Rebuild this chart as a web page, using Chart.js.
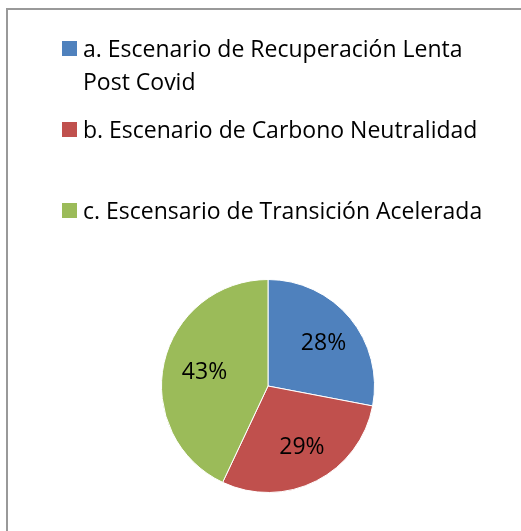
<!DOCTYPE html>
<html>
<head>
<meta charset="utf-8">
<script src="https://cdn.jsdelivr.net/npm/chart.js@4/dist/chart.umd.min.js"></script>
<style>
html,body{margin:0;padding:0;background:#fff;overflow:hidden;}
#wrap{position:absolute;left:0;top:0;width:521px;height:531px;}
#frame{position:absolute;left:6px;top:8px;width:700px;height:700px;border:2px solid #999;box-sizing:border-box;}
</style>
</head>
<body>
<div id="frame"></div>
<div id="wrap"><canvas id="chart" width="521" height="531"></canvas></div>
<script>

// data
const labels = [
  ['a. Escenario de Recuperación Lenta', 'Post Covid'],
  'b. Escenario de Carbono Neutralidad',
  'c. Escensario de Transición Acelerada'
];
const values = [28, 29, 43];
const colors = ['#4F81BD', '#C0504D', '#9BBB59'];

const FONT = '"Open Sans", "Noto Sans", sans-serif';


// legend drawn on the canvas, one item under the other
const sideLegend = {
  id: 'sideLegend',
  afterDraw(chart) {
    const ctx = chart.ctx;
    const lbls = chart.data.labels;
    const cols = chart.data.datasets[0].backgroundColor;
    ctx.save();
    ctx.font = '23px ' + FONT;
    ctx.textBaseline = 'alphabetic';
    for (let i = 0; i < lbls.length; i++) {
      const top = 41 + i * 81;
      ctx.fillStyle = cols[i];
      ctx.fillRect(62, top, 15, 15);
      ctx.fillStyle = '#000';
      const lines = Array.isArray(lbls[i]) ? lbls[i] : [lbls[i]];
      lines.forEach((t, j) => ctx.fillText(t, 83, top + 16 + j * 33));
    }
    ctx.restore();
  }
};


// percentage labels inside slices
const pctLabels = {
  id: 'pctLabels',
  afterDatasetsDraw(chart) {
    const ctx = chart.ctx;
    const meta = chart.getDatasetMeta(0);
    const data = chart.data.datasets[0].data;
    const total = data.reduce((a, b) => a + b, 0);
    ctx.save();
    ctx.font = '23px ' + FONT;
    ctx.fillStyle = '#000';
    ctx.textAlign = 'center';
    ctx.textBaseline = 'middle';
    meta.data.forEach((arc, i) => {
      const p = arc.getProps(['x', 'y', 'startAngle', 'endAngle', 'outerRadius'], true);
      const mid = (p.startAngle + p.endAngle) / 2;
      const d = p.outerRadius * 0.64;
      ctx.fillText(Math.round(data[i] / total * 100) + '%', p.x + Math.cos(mid) * d + 3, p.y + Math.sin(mid) * d + 1);
    });
    ctx.restore();
  }
};


const ctx = document.getElementById('chart').getContext('2d');

const chart = new Chart(ctx, {
  type: 'pie',
  data: {
    labels: labels,
    datasets: [{
      data: values,
      backgroundColor: colors,
      borderColor: '#fff',
      borderWidth: 1
    }]
  },
  options: {
    responsive: false,
    animation: false,
    layout: {
      padding: {left: 161, right: 146, top: 278, bottom: 37}
    },
    plugins: {
      legend: {display: false},
      tooltip: {enabled: false}
    }
  },
  plugins: [sideLegend, pctLabels]
});

</script>
</body>
</html>
